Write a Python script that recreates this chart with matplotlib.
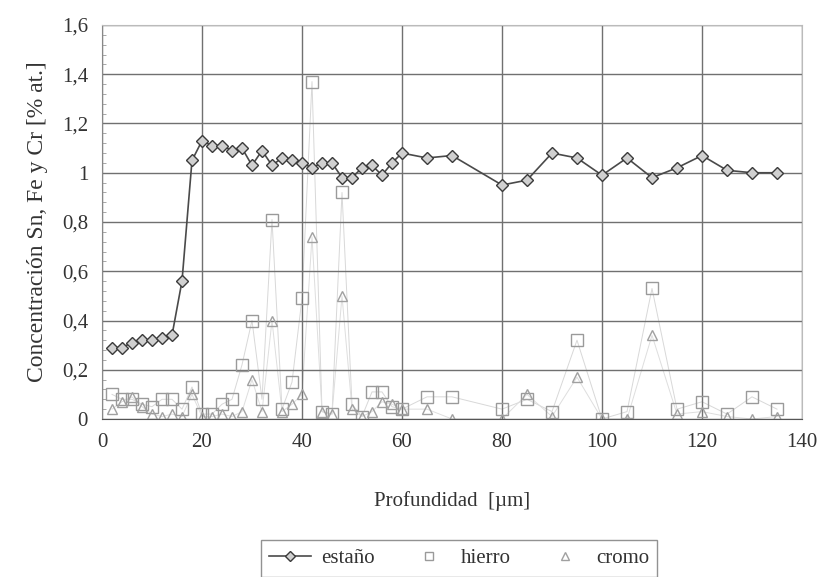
import matplotlib
matplotlib.use("Agg")
from matplotlib import pyplot as plt
from matplotlib.ticker import MultipleLocator, FuncFormatter

# depth profile (µm) and atomic concentrations (% at.)
depth = [2, 4, 6, 8, 10, 12, 14, 16, 18, 20,
         22, 24, 26, 28, 30, 32, 34, 36, 38, 40,
         42, 44, 46, 48, 50, 52, 54, 56, 58, 60,
         65, 70, 80, 85, 90, 95, 100, 105, 110, 115,
         120, 125, 130, 135]

estano = [0.29, 0.29, 0.31, 0.32, 0.32, 0.33, 0.34, 0.56, 1.05, 1.13,
          1.11, 1.11, 1.09, 1.10, 1.03, 1.09, 1.03, 1.06, 1.05, 1.04,
          1.02, 1.04, 1.04, 0.98, 0.98, 1.02, 1.03, 0.99, 1.04, 1.08,
          1.06, 1.07, 0.95, 0.97, 1.08, 1.06, 0.99, 1.06, 0.98, 1.02,
          1.07, 1.01, 1.00, 1.00]

hierro = [0.10, 0.08, 0.08, 0.06, 0.05, 0.08, 0.08, 0.04, 0.13, 0.02,
          0.02, 0.06, 0.08, 0.22, 0.40, 0.08, 0.81, 0.04, 0.15, 0.49,
          1.37, 0.03, 0.02, 0.92, 0.06, 0.01, 0.11, 0.11, 0.05, 0.04,
          0.09, 0.09, 0.04, 0.08, 0.03, 0.32, 0.00, 0.03, 0.53, 0.04,
          0.07, 0.02, 0.09, 0.04]

cromo = [0.04, 0.07, 0.09, 0.05, 0.02, 0.01, 0.02, 0.01, 0.10, 0.01,
         0.01, 0.02, 0.01, 0.03, 0.16, 0.03, 0.40, 0.03, 0.06, 0.10,
         0.74, 0.03, 0.02, 0.50, 0.04, 0.01, 0.03, 0.07, 0.06, 0.04,
         0.04, 0.00, 0.00, 0.10, 0.01, 0.17, 0.00, 0.00, 0.34, 0.02,
         0.03, 0.01, 0.00, 0.01]

plt.rcParams['font.family'] = ['Liberation Serif', 'DejaVu Serif']

fig = plt.figure(figsize=(8.2, 5.77), dpi=100)
ax = fig.add_axes([102 / 820, 1 - 419 / 577, 700 / 820, 394 / 577])

# faint connecting lines for Fe and Cr, like the original print
ax.plot(depth, hierro, color='#d8d8d8', lw=0.7, zorder=1)
ax.plot(depth, cromo, color='#dedede', lw=0.7, zorder=1)

ax.plot(depth, hierro, ls='none', marker='s', ms=8, mfc='none',
        mec='#9a9a9a', mew=1.0, label='hierro', zorder=2)
ax.plot(depth, cromo, ls='none', marker='^', ms=7, mfc='none',
        mec='#a0a0a0', mew=1.0, label='cromo', zorder=2)
ax.plot(depth, estano, color='#4a4a4a', lw=1.2, marker='D', ms=6,
        mfc='#d0d0d0', mec='#3a3a3a', mew=1.0, label='estaño', zorder=3)

ax.set_xlim(0, 140)
ax.set_ylim(0, 1.6)
ax.xaxis.set_major_locator(MultipleLocator(20))
ax.yaxis.set_major_locator(MultipleLocator(0.2))
ax.yaxis.set_minor_locator(MultipleLocator(0.04))
ax.yaxis.set_major_formatter(FuncFormatter(
    lambda v, p: '0' if abs(v) < 1e-9 else ('1' if abs(v - 1) < 1e-9 else f'{v:.1f}'.replace('.', ','))))

ax.grid(True, which='major', color='#707070', lw=1.0)
ax.tick_params(axis='both', which='major', length=0, labelsize=15, colors='#333333', pad=10)
ax.tick_params(axis='y', which='minor', direction='in', length=3, color='#999999')
for side in ['top', 'right']:
    ax.spines[side].set_color('#bbbbbb')
ax.spines['left'].set_color('#888888')
ax.spines['bottom'].set_color('#555555')

ax.set_xlabel('Profundidad  [µm]', fontsize=15, color='#333333', labelpad=28)
ax.set_ylabel('Concentración Sn, Fe y Cr [% at.]', fontsize=17, color='#333333', labelpad=10)

handles, labels = ax.get_legend_handles_labels()
order = [2, 0, 1]
leg = fig.legend([handles[i] for i in order], [labels[i] for i in order],
                 loc='upper center', bbox_to_anchor=(0.56, 1 - 530 / 577), ncol=3,
                 fontsize=15, frameon=True, fancybox=False, edgecolor='#777777',
                 handlelength=2.0, handletextpad=0.5, columnspacing=1.6,
                 markerscale=0.8, borderpad=0.4)
for t in leg.get_texts():
    t.set_color('#333333')

fig.savefig('out.png', dpi=100)
